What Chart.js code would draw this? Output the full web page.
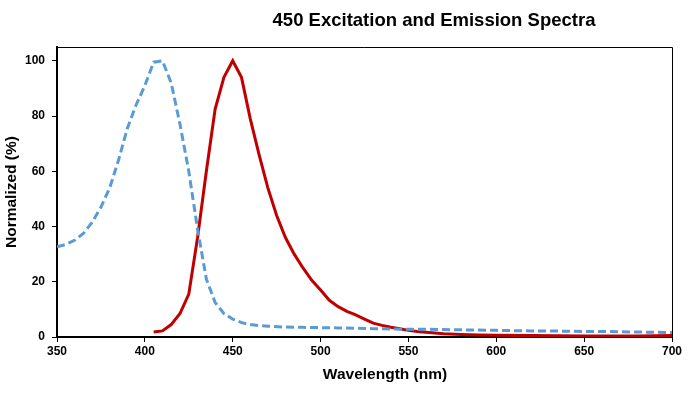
<!DOCTYPE html>
<html>
<head>
<meta charset="utf-8">
<script src="https://cdn.jsdelivr.net/npm/chart.js@4/dist/chart.umd.min.js"></script>
<style>
  html, body { margin: 0; padding: 0; background: #fff; }
  #wrap { width: 697px; height: 402px; }
</style>
</head>
<body>
<div id="wrap"><canvas id="chart" width="697" height="402"></canvas></div>
<script>
// Excitation spectrum (dashed blue)
const exWavelength = [350, 355, 360, 365, 370, 375, 380, 385, 390, 395, 400, 405, 410, 415, 420, 425, 430, 435, 440, 445,
  450, 455, 460, 465, 470, 480, 490, 500, 510, 520, 530, 540, 550, 560, 570, 580, 590, 600, 610, 620,
  630, 640, 650, 660, 670, 680, 690, 700];
const exValues = [32.7, 33.5, 35, 37.5, 41.5, 47, 54, 64, 75.5, 84, 91, 99.5, 100, 92, 77, 60, 39, 21, 12.5, 8.5,
  6.5, 5.2, 4.5, 4.1, 3.9, 3.6, 3.5, 3.4, 3.3, 3.2, 3.0, 2.9, 2.8, 2.8, 2.7, 2.6, 2.5, 2.4, 2.3, 2.2,
  2.2, 2.1, 2.0, 2.0, 1.9, 1.8, 1.7, 1.6];

// Emission spectrum (solid red)
const emWavelength = [405, 410, 415, 420, 425, 430, 435, 440, 445, 450, 455, 460, 465, 470, 475, 480, 485, 490, 495, 500,
  505, 510, 515, 520, 525, 530, 535, 540, 545, 550, 555, 560, 570, 580, 590, 600, 620, 650, 680, 700];
const emValues = [1.8, 2.2, 4.5, 8.5, 15.5, 36, 60, 82.5, 94, 100, 94, 79, 66, 54, 44, 36, 30, 25, 20.5, 17,
  13.3, 11, 9.3, 8, 6.5, 5, 4.2, 3.5, 3, 2.4, 2, 1.7, 1.2, 0.9, 0.7, 0.6, 0.5, 0.4, 0.4, 0.5];

const xTicks = [350, 400, 450, 500, 550, 600, 650, 700];
const yTicks = [0, 20, 40, 60, 80, 100];

const chartTitle = '450 Excitation and Emission Spectra';
const xTitle = 'Wavelength (nm)';
const yTitle = 'Normalized (%)';

const toPoints = (xs, ys) => xs.map((x, i) => ({ x: x, y: ys[i] }));

// titles and the plot frame, placed like the original
const decorPlugin = {
  id: 'decor',
  afterDraw(chart) {
    const ctx = chart.ctx;
    const a = chart.chartArea;
    ctx.save();
    ctx.strokeStyle = '#000';
    ctx.lineWidth = 1;
    ctx.beginPath();
    ctx.moveTo(a.left, a.top + 0.5);
    ctx.lineTo(a.right + 0.5, a.top + 0.5);
    ctx.lineTo(a.right + 0.5, a.bottom);
    ctx.stroke();

    ctx.fillStyle = '#000';
    ctx.textAlign = 'center';
    ctx.textBaseline = 'middle';
    ctx.font = "bold 18.5px 'Liberation Sans', Arial, sans-serif";
    ctx.fillText(chartTitle, 434, 21);

    ctx.font = "bold 15.5px 'Liberation Sans', Arial, sans-serif";
    ctx.fillText(xTitle, 385, 375);

    ctx.translate(12, 192);
    ctx.rotate(-Math.PI / 2);
    ctx.fillText(yTitle, 0, 0);
    ctx.restore();
  }
};

const tickFont = { family: "'Liberation Sans', Arial, sans-serif", size: 12, weight: 'bold' };

new Chart(document.getElementById('chart'), {
  type: 'scatter',
  data: {
    datasets: [
      {
        label: 'Excitation',
        data: toPoints(exWavelength, exValues),
        showLine: true,
        borderColor: '#5B9BD5',
        borderWidth: 3,
        borderDash: [8, 4],
        pointRadius: 0,
        tension: 0,
        fill: false
      },
      {
        label: 'Emission',
        data: toPoints(emWavelength, emValues),
        showLine: true,
        borderColor: '#C00000',
        borderWidth: 3,
        pointRadius: 0,
        tension: 0,
        fill: false
      }
    ]
  },
  options: {
    responsive: false,
    animation: false,
    layout: { padding: { left: 0, top: 47, right: 25, bottom: 0 } },
    plugins: {
      legend: { display: false },
      tooltip: { enabled: false }
    },
    scales: {
      x: {
        type: 'linear',
        min: 350,
        max: 700,
        afterBuildTicks: (s) => { s.ticks = xTicks.map(v => ({ value: v })); },
        afterFit: (s) => { s.height = 65; },
        ticks: { color: '#000', font: tickFont, padding: 2, maxRotation: 0 },
        grid: { display: true, drawOnChartArea: false, drawTicks: true, tickLength: 5, color: '#000', lineWidth: 1 },
        border: { display: true, color: '#000', width: 2 }
      },
      y: {
        type: 'linear',
        min: 0,
        max: 105,
        afterBuildTicks: (s) => { s.ticks = yTicks.map(v => ({ value: v })); },
        afterFit: (s) => { s.width = 57; },
        ticks: { color: '#000', font: tickFont, padding: 7 },
        grid: { display: true, drawOnChartArea: false, drawTicks: true, tickLength: 5, color: '#000', lineWidth: 1 },
        border: { display: true, color: '#000', width: 2 }
      }
    }
  },
  plugins: [decorPlugin]
});
</script>
</body>
</html>
